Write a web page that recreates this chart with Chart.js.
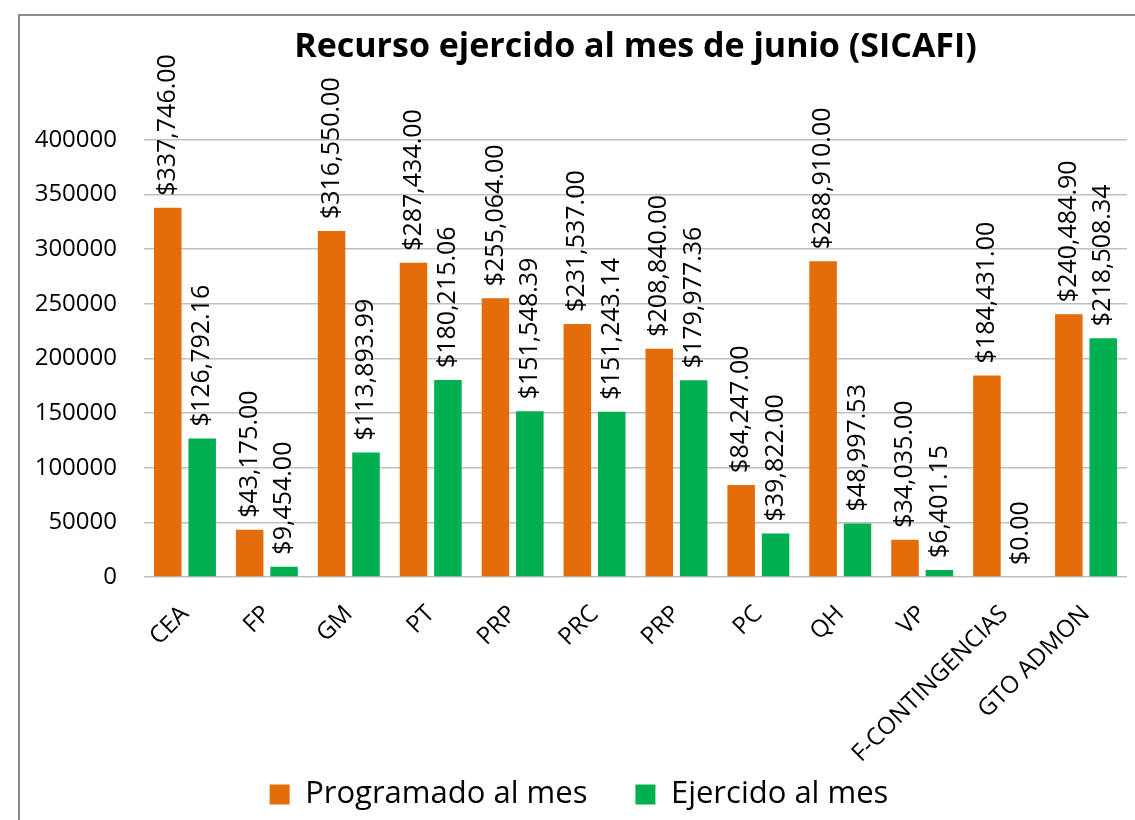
<!DOCTYPE html>
<html>
<head>
<meta charset="utf-8">
<script src="https://cdn.jsdelivr.net/npm/chart.js@4.4.0/dist/chart.umd.min.js"></script>
<style>
  html, body { margin: 0; padding: 0; background: #fff; }
</style>
</head>
<body>
<canvas id="recursoChart" width="1135" height="820"></canvas>
<script>
const categorias = ["CEA", "FP", "GM", "PT", "PRP", "PRC", "PRP", "PC", "QH", "VP", "F-CONTINGENCIAS", "GTO ADMON"];
const programado = [337746.00, 43175.00, 316550.00, 287434.00, 255064.00, 231537.00, 208840.00, 84247.00, 288910.00, 34035.00, 184431.00, 240484.90];
const ejercido = [126792.16, 9454.00, 113893.99, 180215.06, 151548.39, 151243.14, 179977.36, 39822.00, 48997.53, 6401.15, 0.00, 218508.34];
const ticksEje = [0, 50000, 100000, 150000, 200000, 250000, 300000, 350000, 400000];

const FUENTE = '"Open Sans", "DejaVu Sans", sans-serif';

// fondo blanco y marco gris del grafico
const marco = {
  id: 'marco',
  beforeDraw(chart) {
    const ctx = chart.ctx;
    ctx.save();
    ctx.fillStyle = '#fff';
    ctx.fillRect(0, 0, chart.width, chart.height);
    ctx.strokeStyle = '#8c8c8c';
    ctx.lineWidth = 2;
    ctx.strokeRect(19, 15, chart.width + 20, chart.height + 20);
    ctx.restore();
  }
};

// las etiquetas largas del eje x pasan por encima de la caja de la leyenda,
// se alarga el eje para que no las recorte
const ejeLargo = {
  id: 'ejeLargo',
  afterLayout(chart) {
    chart.scales.x.bottom = chart.height;
  }
};

// etiquetas de valor verticales encima de cada barra
const etiquetasValor = {
  id: 'etiquetasValor',
  afterDatasetsDraw(chart) {
    const ctx = chart.ctx;
    ctx.save();
    ctx.font = '25px ' + FUENTE;
    ctx.fillStyle = '#000';
    ctx.textAlign = 'left';
    ctx.textBaseline = 'middle';
    chart.data.datasets.forEach((ds, i) => {
      chart.getDatasetMeta(i).data.forEach((bar, j) => {
        const txt = '$' + ds.data[j].toLocaleString('en-US', { minimumFractionDigits: 2, maximumFractionDigits: 2 });
        ctx.save();
        ctx.translate(bar.x, bar.y - 12);
        ctx.rotate(-Math.PI / 2);
        ctx.fillText(txt, 0, 0);
        ctx.restore();
      });
    });
    ctx.restore();
  }
};

new Chart(document.getElementById('recursoChart'), {
  type: 'bar',
  data: {
    labels: categorias,
    datasets: [
      { label: 'Programado al mes', data: programado, backgroundColor: '#E46C0A', borderWidth: 0 },
      { label: 'Ejercido al mes', data: ejercido, backgroundColor: '#00B050', borderWidth: 0 }
    ]
  },
  options: {
    responsive: false,
    animation: false,
    categoryPercentage: 0.84,
    barPercentage: 0.8,
    layout: { padding: { left: 31, right: 8, top: 0, bottom: 0 } },
    plugins: {
      title: {
        display: true,
        fullSize: false,
        text: 'Recurso ejercido al mes de junio (SICAFI)',
        color: '#000',
        font: { family: FUENTE, size: 34, weight: 'bold', lineHeight: 1.2 },
        padding: { top: 27, bottom: 72 }
      },
      legend: {
        position: 'bottom',
        labels: {
          color: '#000',
          font: { family: FUENTE, size: 31 },
          boxWidth: 20,
          boxHeight: 20,
          padding: 48
        }
      },
      tooltip: { enabled: false }
    },
    scales: {
      x: {
        grid: { display: false },
        border: { display: false },
        ticks: {
          color: '#000',
          font: { family: FUENTE, size: 24 },
          maxRotation: 45,
          minRotation: 45,
          padding: 15,
          autoSkip: false
        },
        afterFit: s => { s.height = 820 - 577 - (s.chart.legend ? s.chart.legend.height : 0); }
      },
      y: {
        min: 0,
        max: 400000,
        grid: { color: '#bfbfbf', lineWidth: 1.5, drawTicks: false },
        border: { display: false },
        ticks: {
          color: '#000',
          font: { family: FUENTE, size: 24 },
          padding: 27,
          callback: v => String(v)
        },
        afterBuildTicks: s => { s.ticks = ticksEje.map(v => ({ value: v })); },
        afterFit: s => { s.width = 113; }
      }
    }
  },
  plugins: [marco, ejeLargo, etiquetasValor]
});
</script>
</body>
</html>
